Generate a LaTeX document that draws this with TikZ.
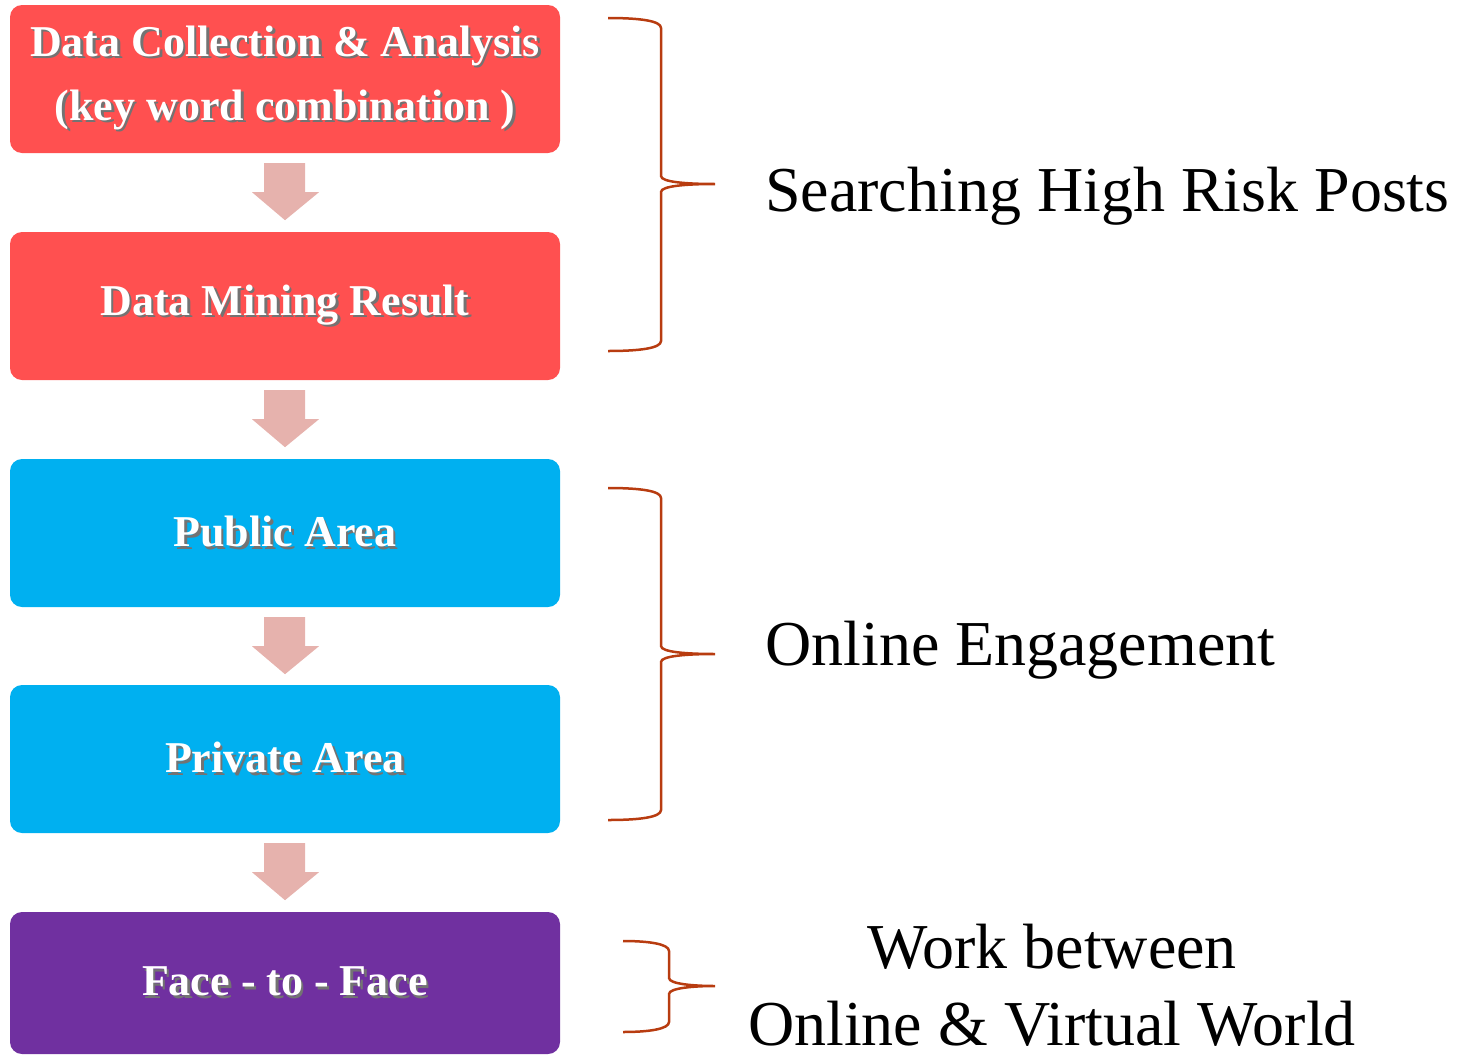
\documentclass[tikz,border=0pt]{standalone}
\usepackage{fontspec}
\usepackage{xcolor}
\setmainfont{Liberation Serif}
\newfontfamily\boxfont{Liberation Serif}
\usetikzlibrary{calc}

\definecolor{boxred}{HTML}{FF5050}
\definecolor{boxblue}{HTML}{00B0F0}
\definecolor{boxpurple}{HTML}{7030A0}
\definecolor{arrowpink}{HTML}{E6B2AD}
\definecolor{bracecol}{HTML}{B83C10}

\newcommand{\shd}[1]{\rlap{\kern2.5pt\raisebox{-2.5pt}{\textcolor{black!55}{#1}}}#1}

\begin{document}
\begin{tikzpicture}[x=1pt,y=1pt]
\tikzset{stepbox/.style={rounded corners=12pt,minimum width=550pt,minimum height=148pt,inner sep=0pt,text=white,align=center,font=\boxfont\bfseries\fontsize{44}{64}\selectfont}}
\tikzset{bracket/.style={draw=bracecol,line width=2.5pt}}
\tikzset{sidetext/.style={inner sep=0pt,font=\fontsize{64}{77}\selectfont}}

\useasboundingbox (0,0) rectangle (1462,-1055);

\node[stepbox,fill=boxred] (dca) at (285,-79) {\shd{Data Collection \& Analysis}\\\shd{(key word combination )}};
\node[stepbox,fill=boxred] (dmr) at (285,-306) {\shd{Data Mining Result}};
\node[stepbox,fill=boxblue] (pub) at (285,-533) {\shd{Public Area}};
\node[stepbox,fill=boxblue] (priv) at (285,-759) {\shd{Private Area}};
\node[stepbox,fill=boxpurple,minimum height=142pt] (ftf) at (285,-983) {\shd{Face - to - Face}};

\foreach \a in {dca,dmr,pub,priv}
  \fill[arrowpink] ($(\a.south)+(-21,-10)$) -- ($(\a.south)+(20,-10)$) -- ($(\a.south)+(20,-39)$)
    -- ($(\a.south)+(34,-39)$) -- ($(\a.south)+(0,-67)$) -- ($(\a.south)+(-33,-39)$)
    -- ($(\a.south)+(-21,-39)$) -- cycle;

\foreach \ya/\ym/\yb/\xa/\xb in {18/184/351/608/661, 488/654/820/608/661, 941/986/1032/623/669}
  \draw[bracket] (\xa,-\ya) .. controls (\xb-20,-\ya) and (\xb,-\ya-3) .. (\xb,-\ya-10)
    -- (\xb,-\ym+8) .. controls (\xb,-\ym+2) and (\xb+25,-\ym) .. (715,-\ym)
    .. controls (\xb+25,-\ym) and (\xb,-\ym-2) .. (\xb,-\ym-8)
    -- (\xb,-\yb+10) .. controls (\xb,-\yb+3) and (\xb-20,-\yb) .. (\xa,-\yb);

\node[sidetext,anchor=base west] (srch) at (765,-211) {Searching High Risk Posts};
\node[sidetext,anchor=base west] (eng) at (765,-665) {Online Engagement};
\node[sidetext,anchor=base,align=center] (wrk) at (1052,-1045) {Work between\\Online \& Virtual World};

\end{tikzpicture}
\end{document}
